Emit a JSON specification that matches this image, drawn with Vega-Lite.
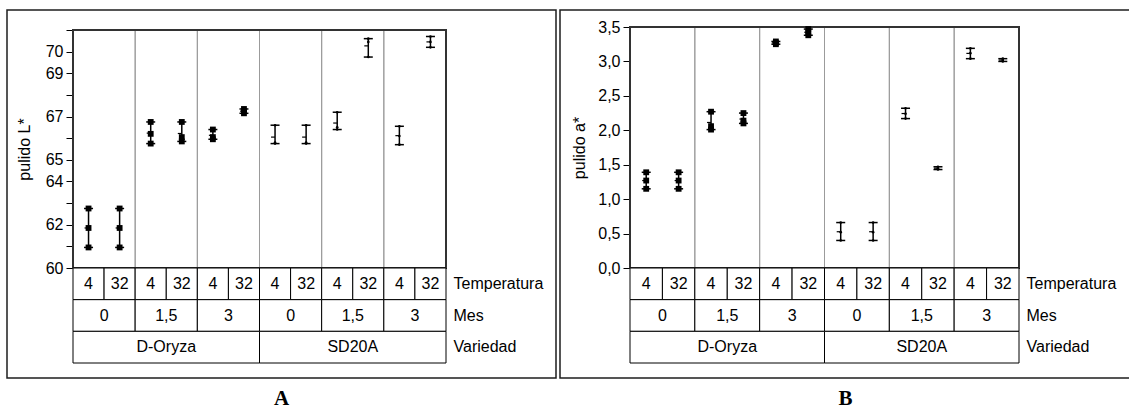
{
  "$schema": "https://vega.github.io/schema/vega-lite/v6.json",
  "padding": {"left": 6, "top": 9, "right": 0, "bottom": 0},
  "background": "white",
  "config": {
    "font": "Liberation Sans",
    "view": {"stroke": "#1e1e1e", "strokeWidth": 1.5},
    "axis": {
      "labelColor": "black", "titleColor": "black",
      "labelFont": "Liberation Sans", "titleFont": "Liberation Sans",
      "labelFontSize": 16, "titleFontSize": 16, "titleFontWeight": "normal",
      "grid": false, "domainColor": "black", "tickColor": "black"
    },
    "axisY": {"labelOverlap": false},
    "text": {"font": "Liberation Sans", "fontSize": 16, "color": "black"},
    "title": {"font": "Liberation Serif", "fontSize": 21, "fontWeight": "bold", "color": "black"}
  },
  "datasets": {
    "obs": [
      {"variedad": "D-Oryza", "mes": "0", "temp": "4", "grupo": "D-Oryza/0", "celda": "D-Oryza/0/04", "L": 62.75, "a": 1.39},
      {"variedad": "D-Oryza", "mes": "0", "temp": "4", "grupo": "D-Oryza/0", "celda": "D-Oryza/0/04", "L": 61.85, "a": 1.27},
      {"variedad": "D-Oryza", "mes": "0", "temp": "4", "grupo": "D-Oryza/0", "celda": "D-Oryza/0/04", "L": 60.95, "a": 1.15},
      {"variedad": "D-Oryza", "mes": "0", "temp": "32", "grupo": "D-Oryza/0", "celda": "D-Oryza/0/32", "L": 62.75, "a": 1.39},
      {"variedad": "D-Oryza", "mes": "0", "temp": "32", "grupo": "D-Oryza/0", "celda": "D-Oryza/0/32", "L": 61.85, "a": 1.27},
      {"variedad": "D-Oryza", "mes": "0", "temp": "32", "grupo": "D-Oryza/0", "celda": "D-Oryza/0/32", "L": 60.95, "a": 1.15},
      {"variedad": "D-Oryza", "mes": "1,5", "temp": "4", "grupo": "D-Oryza/1,5", "celda": "D-Oryza/1,5/04", "L": 66.75, "a": 2.27},
      {"variedad": "D-Oryza", "mes": "1,5", "temp": "4", "grupo": "D-Oryza/1,5", "celda": "D-Oryza/1,5/04", "L": 66.2, "a": 2.06},
      {"variedad": "D-Oryza", "mes": "1,5", "temp": "4", "grupo": "D-Oryza/1,5", "celda": "D-Oryza/1,5/04", "L": 65.75, "a": 2.01},
      {"variedad": "D-Oryza", "mes": "1,5", "temp": "32", "grupo": "D-Oryza/1,5", "celda": "D-Oryza/1,5/32", "L": 66.75, "a": 2.25},
      {"variedad": "D-Oryza", "mes": "1,5", "temp": "32", "grupo": "D-Oryza/1,5", "celda": "D-Oryza/1,5/32", "L": 66.05, "a": 2.14},
      {"variedad": "D-Oryza", "mes": "1,5", "temp": "32", "grupo": "D-Oryza/1,5", "celda": "D-Oryza/1,5/32", "L": 65.85, "a": 2.10},
      {"variedad": "D-Oryza", "mes": "3", "temp": "4", "grupo": "D-Oryza/3", "celda": "D-Oryza/3/04", "L": 66.4, "a": 3.29},
      {"variedad": "D-Oryza", "mes": "3", "temp": "4", "grupo": "D-Oryza/3", "celda": "D-Oryza/3/04", "L": 66.05, "a": 3.27},
      {"variedad": "D-Oryza", "mes": "3", "temp": "4", "grupo": "D-Oryza/3", "celda": "D-Oryza/3/04", "L": 65.95, "a": 3.25},
      {"variedad": "D-Oryza", "mes": "3", "temp": "32", "grupo": "D-Oryza/3", "celda": "D-Oryza/3/32", "L": 67.35, "a": 3.47},
      {"variedad": "D-Oryza", "mes": "3", "temp": "32", "grupo": "D-Oryza/3", "celda": "D-Oryza/3/32", "L": 67.25, "a": 3.42},
      {"variedad": "D-Oryza", "mes": "3", "temp": "32", "grupo": "D-Oryza/3", "celda": "D-Oryza/3/32", "L": 67.15, "a": 3.38},
      {"variedad": "SD20A", "mes": "0", "temp": "4", "grupo": "SD20A/0", "celda": "SD20A/0/04", "L": 66.6, "a": 0.66},
      {"variedad": "SD20A", "mes": "0", "temp": "4", "grupo": "SD20A/0", "celda": "SD20A/0/04", "L": 65.8, "a": 0.52},
      {"variedad": "SD20A", "mes": "0", "temp": "4", "grupo": "SD20A/0", "celda": "SD20A/0/04", "L": 65.75, "a": 0.40},
      {"variedad": "SD20A", "mes": "0", "temp": "32", "grupo": "SD20A/0", "celda": "SD20A/0/32", "L": 66.6, "a": 0.66},
      {"variedad": "SD20A", "mes": "0", "temp": "32", "grupo": "SD20A/0", "celda": "SD20A/0/32", "L": 65.8, "a": 0.52},
      {"variedad": "SD20A", "mes": "0", "temp": "32", "grupo": "SD20A/0", "celda": "SD20A/0/32", "L": 65.75, "a": 0.40},
      {"variedad": "SD20A", "mes": "1,5", "temp": "4", "grupo": "SD20A/1,5", "celda": "SD20A/1,5/04", "L": 67.2, "a": 2.32},
      {"variedad": "SD20A", "mes": "1,5", "temp": "4", "grupo": "SD20A/1,5", "celda": "SD20A/1,5/04", "L": 66.5, "a": 2.24},
      {"variedad": "SD20A", "mes": "1,5", "temp": "4", "grupo": "SD20A/1,5", "celda": "SD20A/1,5/04", "L": 66.4, "a": 2.17},
      {"variedad": "SD20A", "mes": "1,5", "temp": "32", "grupo": "SD20A/1,5", "celda": "SD20A/1,5/32", "L": 70.6, "a": 1.47},
      {"variedad": "SD20A", "mes": "1,5", "temp": "32", "grupo": "SD20A/1,5", "celda": "SD20A/1,5/32", "L": 70.45, "a": 1.45},
      {"variedad": "SD20A", "mes": "1,5", "temp": "32", "grupo": "SD20A/1,5", "celda": "SD20A/1,5/32", "L": 69.75, "a": 1.43},
      {"variedad": "SD20A", "mes": "3", "temp": "4", "grupo": "SD20A/3", "celda": "SD20A/3/04", "L": 66.55, "a": 3.19},
      {"variedad": "SD20A", "mes": "3", "temp": "4", "grupo": "SD20A/3", "celda": "SD20A/3/04", "L": 66.1, "a": 3.12},
      {"variedad": "SD20A", "mes": "3", "temp": "4", "grupo": "SD20A/3", "celda": "SD20A/3/04", "L": 65.7, "a": 3.04},
      {"variedad": "SD20A", "mes": "3", "temp": "32", "grupo": "SD20A/3", "celda": "SD20A/3/32", "L": 70.7, "a": 3.04},
      {"variedad": "SD20A", "mes": "3", "temp": "32", "grupo": "SD20A/3", "celda": "SD20A/3/32", "L": 70.45, "a": 3.02},
      {"variedad": "SD20A", "mes": "3", "temp": "32", "grupo": "SD20A/3", "celda": "SD20A/3/32", "L": 70.2, "a": 3.00}
    ]
  },
  "spacing": 2,
  "hconcat": [
    {
      "width": 549,
      "height": 368,
      "data": {"name": "obs"},
      "title": {"text": "A", "orient": "bottom", "anchor": "middle", "offset": 10, "baseline": "top"},
      "layer": [
        {
          "layer": [
            {
              "transform": [{"aggregate": [{"op": "count", "as": "n"}], "groupby": ["grupo"]}],
              "mark": {"type": "rect", "fill": null, "stroke": "#9b9b9b", "strokeWidth": 1},
              "encoding": {
                "x": {"field": "grupo", "type": "nominal", "scale": {"range": [66, 439], "paddingInner": 0, "paddingOuter": 0}, "axis": null},
                "y": {
                  "datum": 71, "type": "quantitative",
                  "scale": {"domain": [60, 71], "range": [258, 20], "nice": false, "zero": false},
                  "axis": {
                    "orient": "left", "offset": -66, "title": "pulido L*",
                    "values": [60, 61, 62, 63, 64, 65, 66, 67, 68, 69, 70, 71],
                    "tickCount": 12,
                    "labelExpr": "indexof([60, 62, 64, 65, 67, 69, 70], datum.value) >= 0 ? datum.label : ''",
                    "labelOverlap": false, "labelBound": false,
                    "tickSize": 7, "labelPadding": 3, "titlePadding": 13
                  }
                },
                "y2": {"datum": 60}
              }
            },
            {
              "mark": {"type": "rect", "fill": null, "stroke": "#333333", "strokeWidth": 1.3},
              "encoding": {
                "x": {"datum": "pulido L*", "type": "nominal", "scale": {"range": [66, 439], "paddingInner": 0, "paddingOuter": 0}, "axis": null},
                "y": {"datum": 71, "type": "quantitative"},
                "y2": {"datum": 60}
              }
            },
            {
              "encoding": {
                "x": {"field": "celda", "type": "nominal", "scale": {"range": [66, 439], "paddingInner": 0, "paddingOuter": 0}, "axis": null}
              },
              "layer": [
                {
                  "mark": {"type": "rule", "color": "black", "strokeWidth": 1.5},
                  "encoding": {
                    "y": {"aggregate": "min", "field": "L", "type": "quantitative"},
                    "y2": {"aggregate": "max", "field": "L"}
                  }
                },
                {
                  "mark": {"type": "tick", "color": "black", "size": 9, "thickness": 1.5},
                  "encoding": {"y": {"aggregate": "min", "field": "L", "type": "quantitative"}}
                },
                {
                  "mark": {"type": "tick", "color": "black", "size": 9, "thickness": 1.5},
                  "encoding": {"y": {"aggregate": "max", "field": "L", "type": "quantitative"}}
                },
                {
                  "mark": {"type": "tick", "color": "black", "size": 4, "thickness": 1.2, "xOffset": -2},
                  "encoding": {"y": {"aggregate": "mean", "field": "L", "type": "quantitative"}}
                },
                {
                  "mark": {"type": "point", "filled": true, "color": "black", "opacity": 1},
                  "encoding": {
                    "y": {"field": "L", "type": "quantitative"},
                    "shape": {"field": "variedad", "type": "nominal", "scale": {"domain": ["D-Oryza", "SD20A"], "range": ["square", "circle"]}, "legend": null},
                    "size": {"field": "variedad", "type": "ordinal", "scale": {"domain": ["D-Oryza", "SD20A"], "range": [34, 7]}, "legend": null}
                  }
                }
              ]
            }
          ],
          "resolve": {"scale": {"x": "independent"}}
        },
        {
          "layer": [
            {
              "transform": [{"aggregate": [{"op": "count", "as": "n"}], "groupby": ["celda", "temp"]}],
              "mark": {"type": "rect", "fill": "white", "stroke": "black", "strokeWidth": 1},
              "encoding": {
                "x": {"field": "celda", "type": "nominal", "scale": {"range": [66, 439], "paddingInner": 0, "paddingOuter": 0}, "axis": null},
                "y": {
                  "datum": "Temperatura", "type": "nominal",
                  "scale": {"domain": ["Temperatura", "Mes", "Variedad"], "range": [258, 353], "paddingInner": 0, "paddingOuter": 0},
                  "axis": {"orient": "right", "offset": -110, "domain": false, "ticks": false, "labelPadding": 7, "labelAlign": "left", "title": null}
                }
              }
            },
            {
              "transform": [{"aggregate": [{"op": "count", "as": "n"}], "groupby": ["celda", "temp"]}],
              "mark": {"type": "text"},
              "encoding": {
                "x": {"field": "celda", "type": "nominal", "scale": {"range": [66, 439], "paddingInner": 0, "paddingOuter": 0}, "axis": null},
                "y": {"datum": "Temperatura", "type": "nominal"},
                "text": {"field": "temp"}
              }
            },
            {
              "transform": [{"aggregate": [{"op": "count", "as": "n"}], "groupby": ["grupo", "mes"]}],
              "mark": {"type": "rect", "fill": "white", "stroke": "black", "strokeWidth": 1},
              "encoding": {
                "x": {"field": "grupo", "type": "nominal", "scale": {"range": [66, 439], "paddingInner": 0, "paddingOuter": 0}, "axis": null},
                "y": {"datum": "Mes", "type": "nominal"}
              }
            },
            {
              "transform": [{"aggregate": [{"op": "count", "as": "n"}], "groupby": ["grupo", "mes"]}],
              "mark": {"type": "text"},
              "encoding": {
                "x": {"field": "grupo", "type": "nominal", "scale": {"range": [66, 439], "paddingInner": 0, "paddingOuter": 0}, "axis": null},
                "y": {"datum": "Mes", "type": "nominal"},
                "text": {"field": "mes"}
              }
            },
            {
              "transform": [{"aggregate": [{"op": "count", "as": "n"}], "groupby": ["variedad"]}],
              "mark": {"type": "rect", "fill": "white", "stroke": "black", "strokeWidth": 1},
              "encoding": {
                "x": {"field": "variedad", "type": "nominal", "scale": {"range": [66, 439], "paddingInner": 0, "paddingOuter": 0}, "axis": null},
                "y": {"datum": "Variedad", "type": "nominal"}
              }
            },
            {
              "transform": [{"aggregate": [{"op": "count", "as": "n"}], "groupby": ["variedad"]}],
              "mark": {"type": "text"},
              "encoding": {
                "x": {"field": "variedad", "type": "nominal", "scale": {"range": [66, 439], "paddingInner": 0, "paddingOuter": 0}, "axis": null},
                "y": {"datum": "Variedad", "type": "nominal"},
                "text": {"field": "variedad"}
              }
            }
          ],
          "resolve": {"scale": {"x": "independent"}}
        }
      ],
      "resolve": {"scale": {"x": "independent", "y": "independent"}}
    },
    {
      "width": 571,
      "height": 368,
      "data": {"name": "obs"},
      "title": {"text": "B", "orient": "bottom", "anchor": "middle", "offset": 10, "baseline": "top"},
      "layer": [
        {
          "layer": [
            {
              "transform": [{"aggregate": [{"op": "count", "as": "n"}], "groupby": ["grupo"]}],
              "mark": {"type": "rect", "fill": null, "stroke": "#9b9b9b", "strokeWidth": 1},
              "encoding": {
                "x": {"field": "grupo", "type": "nominal", "scale": {"range": [70, 459], "paddingInner": 0, "paddingOuter": 0}, "axis": null},
                "y": {
                  "datum": 3.5, "type": "quantitative",
                  "scale": {"domain": [0, 3.5], "range": [258, 17], "nice": false, "zero": false},
                  "axis": {
                    "orient": "left", "offset": -70, "title": "pulido a*",
                    "values": [0, 0.5, 1, 1.5, 2, 2.5, 3, 3.5],
                    "labelExpr": "replace(format(datum.value, '.1f'), '.', ',')",
                    "labelOverlap": false, "labelBound": false,
                    "tickSize": 7, "labelPadding": 3, "titlePadding": 10
                  }
                },
                "y2": {"datum": 0}
              }
            },
            {
              "mark": {"type": "rect", "fill": null, "stroke": "#333333", "strokeWidth": 1.3},
              "encoding": {
                "x": {"datum": "pulido a*", "type": "nominal", "scale": {"range": [70, 459], "paddingInner": 0, "paddingOuter": 0}, "axis": null},
                "y": {"datum": 3.5, "type": "quantitative"},
                "y2": {"datum": 0}
              }
            },
            {
              "encoding": {
                "x": {"field": "celda", "type": "nominal", "scale": {"range": [70, 459], "paddingInner": 0, "paddingOuter": 0}, "axis": null}
              },
              "layer": [
                {
                  "mark": {"type": "rule", "color": "black", "strokeWidth": 1.5},
                  "encoding": {
                    "y": {"aggregate": "min", "field": "a", "type": "quantitative"},
                    "y2": {"aggregate": "max", "field": "a"}
                  }
                },
                {
                  "mark": {"type": "tick", "color": "black", "size": 9, "thickness": 1.5},
                  "encoding": {"y": {"aggregate": "min", "field": "a", "type": "quantitative"}}
                },
                {
                  "mark": {"type": "tick", "color": "black", "size": 9, "thickness": 1.5},
                  "encoding": {"y": {"aggregate": "max", "field": "a", "type": "quantitative"}}
                },
                {
                  "mark": {"type": "tick", "color": "black", "size": 4, "thickness": 1.2, "xOffset": -2},
                  "encoding": {"y": {"aggregate": "mean", "field": "a", "type": "quantitative"}}
                },
                {
                  "mark": {"type": "point", "filled": true, "color": "black", "opacity": 1},
                  "encoding": {
                    "y": {"field": "a", "type": "quantitative"},
                    "shape": {"field": "variedad", "type": "nominal", "scale": {"domain": ["D-Oryza", "SD20A"], "range": ["square", "circle"]}, "legend": null},
                    "size": {"field": "variedad", "type": "ordinal", "scale": {"domain": ["D-Oryza", "SD20A"], "range": [34, 7]}, "legend": null}
                  }
                }
              ]
            }
          ],
          "resolve": {"scale": {"x": "independent"}}
        },
        {
          "layer": [
            {
              "transform": [{"aggregate": [{"op": "count", "as": "n"}], "groupby": ["celda", "temp"]}],
              "mark": {"type": "rect", "fill": "white", "stroke": "black", "strokeWidth": 1},
              "encoding": {
                "x": {"field": "celda", "type": "nominal", "scale": {"range": [70, 459], "paddingInner": 0, "paddingOuter": 0}, "axis": null},
                "y": {
                  "datum": "Temperatura", "type": "nominal",
                  "scale": {"domain": ["Temperatura", "Mes", "Variedad"], "range": [258, 353], "paddingInner": 0, "paddingOuter": 0},
                  "axis": {"orient": "right", "offset": -112, "domain": false, "ticks": false, "labelPadding": 7, "labelAlign": "left", "title": null}
                }
              }
            },
            {
              "transform": [{"aggregate": [{"op": "count", "as": "n"}], "groupby": ["celda", "temp"]}],
              "mark": {"type": "text"},
              "encoding": {
                "x": {"field": "celda", "type": "nominal", "scale": {"range": [70, 459], "paddingInner": 0, "paddingOuter": 0}, "axis": null},
                "y": {"datum": "Temperatura", "type": "nominal"},
                "text": {"field": "temp"}
              }
            },
            {
              "transform": [{"aggregate": [{"op": "count", "as": "n"}], "groupby": ["grupo", "mes"]}],
              "mark": {"type": "rect", "fill": "white", "stroke": "black", "strokeWidth": 1},
              "encoding": {
                "x": {"field": "grupo", "type": "nominal", "scale": {"range": [70, 459], "paddingInner": 0, "paddingOuter": 0}, "axis": null},
                "y": {"datum": "Mes", "type": "nominal"}
              }
            },
            {
              "transform": [{"aggregate": [{"op": "count", "as": "n"}], "groupby": ["grupo", "mes"]}],
              "mark": {"type": "text"},
              "encoding": {
                "x": {"field": "grupo", "type": "nominal", "scale": {"range": [70, 459], "paddingInner": 0, "paddingOuter": 0}, "axis": null},
                "y": {"datum": "Mes", "type": "nominal"},
                "text": {"field": "mes"}
              }
            },
            {
              "transform": [{"aggregate": [{"op": "count", "as": "n"}], "groupby": ["variedad"]}],
              "mark": {"type": "rect", "fill": "white", "stroke": "black", "strokeWidth": 1},
              "encoding": {
                "x": {"field": "variedad", "type": "nominal", "scale": {"range": [70, 459], "paddingInner": 0, "paddingOuter": 0}, "axis": null},
                "y": {"datum": "Variedad", "type": "nominal"}
              }
            },
            {
              "transform": [{"aggregate": [{"op": "count", "as": "n"}], "groupby": ["variedad"]}],
              "mark": {"type": "text"},
              "encoding": {
                "x": {"field": "variedad", "type": "nominal", "scale": {"range": [70, 459], "paddingInner": 0, "paddingOuter": 0}, "axis": null},
                "y": {"datum": "Variedad", "type": "nominal"},
                "text": {"field": "variedad"}
              }
            }
          ],
          "resolve": {"scale": {"x": "independent"}}
        }
      ],
      "resolve": {"scale": {"x": "independent", "y": "independent"}}
    }
  ]
}
